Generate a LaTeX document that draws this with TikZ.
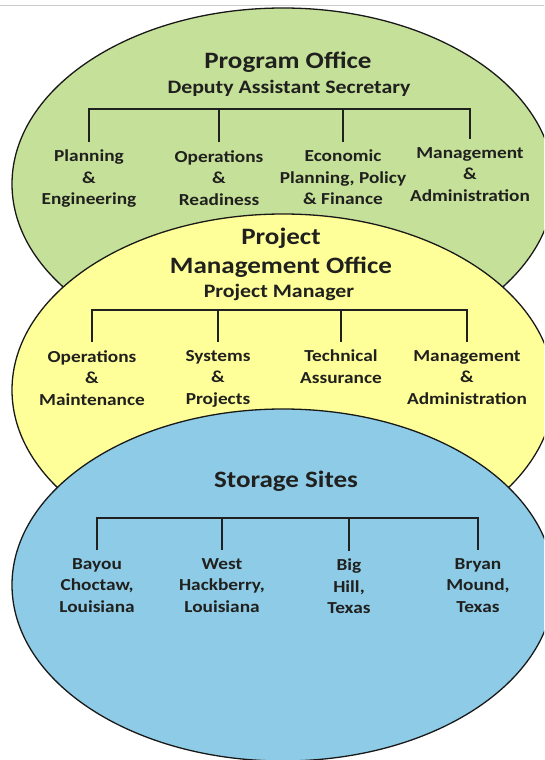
\documentclass[tikz,border=0pt]{standalone}
\usepackage{fontspec}
\setmainfont{Carlito}[FakeStretch=1.15]
\usepackage{xcolor}
\usepackage{tikz}
\usetikzlibrary{shapes.geometric}

\definecolor{poGreen}{RGB}{197,224,152}
\definecolor{pmoYellow}{RGB}{255,255,153}
\definecolor{siteBlue}{RGB}{142,203,230}
\definecolor{ink}{RGB}{32,32,30}

\begin{document}
\begin{tikzpicture}[
    x=1pt, y=-1pt,
    oval/.style={draw=black!90, ellipse, line width=1.3pt, minimum width=542pt, minimum height=352pt, inner sep=0pt},
    head/.style={font=\fontsize{23.5}{26}\selectfont\bfseries, text=ink, inner sep=0pt, anchor=base},
    sub/.style={font=\fontsize{19}{22}\selectfont\bfseries, text=ink, inner sep=0pt, anchor=base},
    unit/.style={align=center, font=\fontsize{16.8}{21.5}\selectfont\bfseries, text=ink, inner sep=0pt, anchor=north},
    link/.style={draw=ink, line width=1.5pt, shorten >=8pt}
]
\clip (0,0) rectangle (544,760);
\fill[white] (0,0) rectangle (544,760);
\draw[black!20, line width=1pt] (0,6) -- (544,6);

% program office
\node (green) [oval, fill=poGreen] at (283,184) {};
\node (po) [head] at (288,68) {Program Office};
\node (das) [sub] at (289,93) {Deputy Assistant Secretary};
\coordinate (poBar) at (0,109);
\node (plan) [unit] at (89,150) {Planning\\\&\\Engineering};
\node (ops) [unit] at (219,150) {Operations\\\&\\Readiness};
\node (econ) [unit] at (343,150) {Economic\\Planning, Policy\\\& Finance};
\node (admin) [unit] at (470,147) {Management\\\&\\Administration};

\draw [link, shorten <=8pt] (plan.north) |- (admin.north |- poBar) -- (admin.north);
\foreach \n in {ops,econ}
    \draw [link] (\n.north |- poBar) -- (\n.north);

% project management office
\node (yellow) [oval, fill=pmoYellow] at (283,390) {};
\node (pmo) [head] at (281,244) {Project};
\node (pmo2) [head] at (281,273) {Management Office};
\node (pm) [sub] at (279,297) {Project Manager};
\coordinate (pmBar) at (0,310);
\node (om) [unit] at (92,350) {Operations\\\&\\Maintenance};
\node (sp) [unit] at (218,350) {Systems\\\&\\Projects};
\node (ta) [unit] at (341,350) {Technical\\Assurance};
\node (ma) [unit] at (467,350) {Management\\\&\\Administration};

\draw [link, shorten <=8pt] (om.north) |- (ma.north |- pmBar) -- (ma.north);
\foreach \n in {sp,ta}
    \draw [link] (\n.north |- pmBar) -- (\n.north);

% storage sites
\node (blue) [oval, fill=siteBlue] at (283,585) {};
\node (sites) [head] at (286,487) {Storage Sites};
\coordinate (siteBar) at (0,518);
\node (bc) [unit] at (97,558) {Bayou\\Choctaw,\\Louisiana};
\node (wh) [unit] at (222,558) {West\\Hackberry,\\Louisiana};
\node (bh) [unit] at (349,559) {Big\\Hill,\\Texas};
\node (bm) [unit] at (478,558) {Bryan\\Mound,\\Texas};

\draw [link, shorten <=8pt] (bc.north) |- (bm.north |- siteBar) -- (bm.north);
\foreach \n in {wh,bh}
    \draw [link] (\n.north |- siteBar) -- (\n.north);

\end{tikzpicture}
\end{document}
